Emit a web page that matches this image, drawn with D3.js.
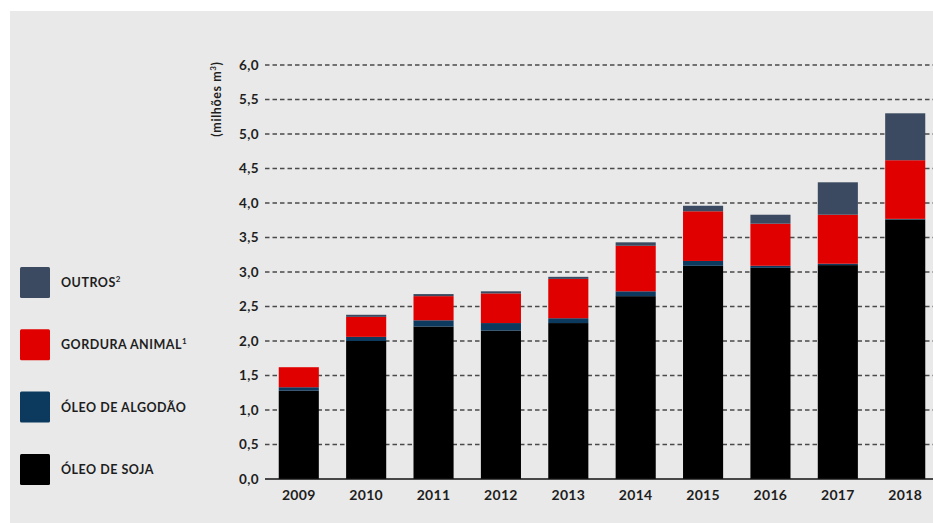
<!DOCTYPE html>
<html>
<head>
<meta charset="utf-8">
<script src="https://cdn.jsdelivr.net/npm/d3@7"></script>
<style>
  html, body { margin: 0; padding: 0; background: #ffffff; }
  svg { display: block; }
</style>
</head>
<body>
<script>
const years = ['2009', '2010', '2011', '2012', '2013', '2014', '2015', '2016', '2017', '2018'];
const oleoSoja = [1.28, 2.0, 2.21, 2.15, 2.26, 2.65, 3.09, 3.06, 3.1, 3.76];
const oleoAlgodao = [0.05, 0.06, 0.09, 0.11, 0.07, 0.07, 0.07, 0.03, 0.02, 0.01];
const gorduraAnimal = [0.29, 0.29, 0.35, 0.43, 0.57, 0.66, 0.72, 0.61, 0.71, 0.85];
const outros = [0.0, 0.03, 0.03, 0.03, 0.03, 0.05, 0.08, 0.13, 0.47, 0.68];
const yTicks = [0, 0.5, 1, 1.5, 2, 2.5, 3, 3.5, 4, 4.5, 5, 5.5, 6];

const seriesKeys = ['soja', 'algodao', 'gordura', 'outros'];
const colors = { soja: '#000000', algodao: '#0b3a5e', gordura: '#e10000', outros: '#3b4a60' };
const legendItems = [
  { key: 'outros', label: 'OUTROS', sup: '2' },
  { key: 'gordura', label: 'GORDURA ANIMAL', sup: '1' },
  { key: 'algodao', label: 'ÓLEO DE ALGODÃO', sup: '' },
  { key: 'soja', label: 'ÓLEO DE SOJA', sup: '' },
];

const width = 933;
const height = 523;
const marginLeft = 265;
const plotLeft = 272;
const plotRight = 932;
const yBottom = 479;
const yTop = 65;
const font = 'Lato, "Open Sans", sans-serif';

const rows = years.map((yr, i) => ({
  year: yr,
  soja: oleoSoja[i],
  algodao: oleoAlgodao[i],
  gordura: gorduraAnimal[i],
  outros: outros[i],
}));

const svg = d3.select('body')
  .append('svg')
  .attr('width', width)
  .attr('height', height)
  .style('font-family', font);

// panel background
svg.append('rect')
  .attr('x', 10)
  .attr('y', 11)
  .attr('width', width - 10)
  .attr('height', height - 11)
  .attr('fill', '#e9e9e9');

const x = d3.scaleBand()
  .domain(years)
  .range([plotLeft, plotRight])
  .paddingInner(0.405)
  .paddingOuter(0.1);

const y = d3.scaleLinear()
  .domain([0, 6])
  .range([yBottom, yTop]);

// Dashed grid lines
svg.append('g')
  .selectAll('line')
  .data(yTicks.filter((d) => d > 0))
  .join('line')
  .attr('x1', marginLeft)
  .attr('x2', width)
  .attr('y1', (d) => y(d))
  .attr('y2', (d) => y(d))
  .attr('stroke', '#4a4a4a')
  .attr('stroke-width', 1.5)
  .attr('stroke-dasharray', '4.5,3');

// Y axis labels
const yAxis = svg.append('g')
  .attr('transform', `translate(${marginLeft},0)`)
  .call(d3.axisLeft(y).tickValues(yTicks).tickSize(0).tickPadding(6)
    .tickFormat((d) => d3.format('.1f')(d).replace('.', ',')));
yAxis.select('.domain').remove();
yAxis.selectAll('text')
  .attr('font-size', 13.5)
  .attr('font-weight', 700)
  .attr('letter-spacing', 0.4)
  .attr('fill', '#1e1e1e')
  .style('font-family', font);

// Stacked bars
const stack = d3.stack().keys(seriesKeys);
const stacked = stack(rows);

svg.append('g')
  .selectAll('g')
  .data(stacked)
  .join('g')
  .attr('fill', (d) => colors[d.key])
  .selectAll('rect')
  .data((d) => d)
  .join('rect')
  .attr('x', (d) => x(d.data.year))
  .attr('y', (d) => y(d[1]))
  .attr('width', x.bandwidth())
  .attr('height', (d) => Math.max(0, y(d[0]) - y(d[1])));

// Baseline
svg.append('line')
  .attr('x1', marginLeft)
  .attr('x2', width)
  .attr('y1', y(0))
  .attr('y2', y(0))
  .attr('stroke', '#111')
  .attr('stroke-width', 1.5);

// X axis labels
const xAxis = svg.append('g')
  .attr('transform', `translate(0,${yBottom})`)
  .call(d3.axisBottom(x).tickSize(0).tickPadding(11));
xAxis.select('.domain').remove();
xAxis.selectAll('text')
  .attr('font-size', 14)
  .attr('font-weight', 700)
  .attr('letter-spacing', 0.3)
  .attr('fill', '#1e1e1e')
  .style('font-family', font);

// Y axis title
const yTitle = svg.append('text')
  .attr('transform', 'translate(221,99) rotate(-90)')
  .attr('text-anchor', 'middle')
  .attr('font-size', 12.5)
  .attr('font-weight', 700)
  .attr('letter-spacing', 0.6)
  .attr('fill', '#1e1e1e');
yTitle.append('tspan').text('(milhões m');
yTitle.append('tspan').attr('font-size', 8).attr('dy', -5).text('3');
yTitle.append('tspan').attr('dy', 5).text(')');

// Handmade legend
const legend = svg.append('g')
  .selectAll('g')
  .data(legendItems)
  .join('g')
  .attr('transform', (d, i) => `translate(20,${267 + i * 62.3})`);

legend.append('rect')
  .attr('width', 30)
  .attr('height', 31)
  .attr('rx', 1.5)
  .attr('fill', (d) => colors[d.key]);

const legendText = legend.append('text')
  .attr('x', 41)
  .attr('y', 20)
  .attr('font-size', 12.5)
  .attr('font-weight', 700)
  .attr('letter-spacing', 0.5)
  .attr('fill', '#1e1e1e');
legendText.append('tspan').text((d) => d.label);
legendText.append('tspan')
  .attr('font-size', 8)
  .attr('dy', -5)
  .text((d) => d.sup);
</script>
</body>
</html>
